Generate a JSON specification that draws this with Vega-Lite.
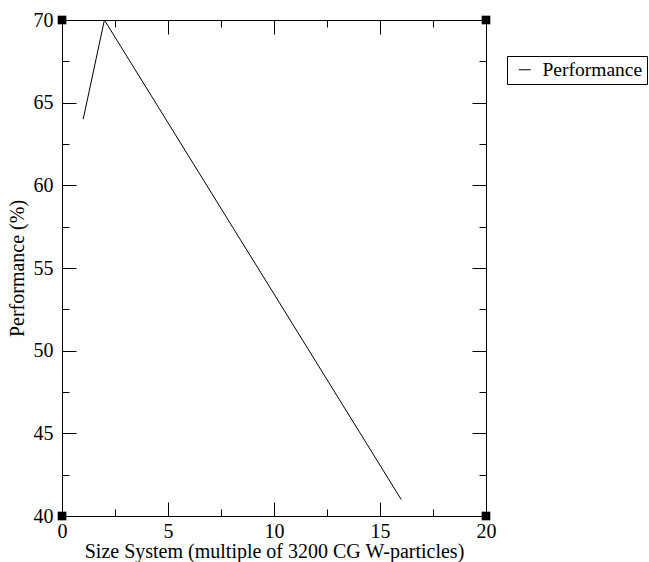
{
  "$schema": "https://vega.github.io/schema/vega-lite/v6.json",
  "width": 424,
  "height": 496,
  "autosize": {"type": "none"},
  "padding": {"left": 62, "top": 20, "right": 163, "bottom": 46},
  "background": "white",
  "config": {
    "view": {"stroke": null},
    "font": "Liberation Serif",
    "text": {"font": "Liberation Serif"},
    "legend": {"labelFont": "Liberation Serif", "titleFont": "Liberation Serif"},
    "axis": {
      "labelFont": "Liberation Serif",
      "titleFont": "Liberation Serif",
      "labelFontSize": 20,
      "titleFontSize": 20,
      "titleFontWeight": "normal",
      "labelColor": "black",
      "titleColor": "black",
      "domainColor": "black",
      "tickColor": "black",
      "grid": false,
      "labelFlush": false,
      "labelOverlap": false
    }
  },
  "datasets": {
    "perf": [
      {"size": 1, "performance": 64, "series": "Performance"},
      {"size": 2, "performance": 70, "series": "Performance"},
      {"size": 16, "performance": 41, "series": "Performance"}
    ],
    "corners": [
      {"cx": 0, "cy": 40},
      {"cx": 0, "cy": 70},
      {"cx": 20, "cy": 70},
      {"cx": 20, "cy": 40}
    ]
  },
  "layer": [
    {
      "data": {"name": "perf"},
      "mark": {"type": "line", "color": "black", "strokeWidth": 1},
      "encoding": {
        "x": {
          "field": "size", "type": "quantitative",
          "scale": {"domain": [0, 20], "nice": false, "zero": false},
          "axis": {
            "orient": "bottom",
            "title": "Size System (multiple of 3200 CG W-particles)",
            "values": [0, 2.5, 5, 7.5, 10, 12.5, 15, 17.5, 20],
            "labelExpr": "datum.value % 5 === 0 ? datum.label : ''",
            "tickSize": {"condition": {"test": "datum.value % 5 === 0", "value": -14}, "value": -7},
            "labelPadding": {"condition": {"test": "datum.value % 5 === 0", "value": 19}, "value": 12},
            "titlePadding": 0
          }
        },
        "y": {
          "field": "performance", "type": "quantitative",
          "scale": {"domain": [40, 70], "nice": false, "zero": false},
          "axis": {
            "orient": "left",
            "title": "Performance (%)",
            "values": [40, 42.5, 45, 47.5, 50, 52.5, 55, 57.5, 60, 62.5, 65, 67.5, 70],
            "labelExpr": "datum.value % 5 === 0 ? datum.label : ''",
            "tickSize": {"condition": {"test": "datum.value % 5 === 0", "value": -14}, "value": -7},
            "labelPadding": {"condition": {"test": "datum.value % 5 === 0", "value": 23}, "value": 16},
            "titlePadding": 6
          }
        },
        "color": {
          "field": "series", "type": "nominal",
          "scale": {"range": ["black"]},
          "legend": {
            "title": null,
            "orient": "none",
            "legendX": 445,
            "legendY": 36,
            "symbolType": "stroke",
            "symbolSize": 144,
            "symbolStrokeWidth": 1,
            "symbolOffset": 4,
            "strokeColor": "black",
            "fillColor": "white",
            "padding": 4,
            "labelFontSize": 19.5,
            "labelColor": "black",
            "labelOffset": 8,
            "offset": 0
          }
        }
      }
    },
    {
      "data": {"name": "corners"},
      "mark": {"type": "point", "shape": "square", "filled": true, "color": "black", "size": 75, "opacity": 1},
      "encoding": {
        "x": {
          "field": "cx", "type": "quantitative",
          "axis": {
            "orient": "top",
            "title": null,
            "values": [0, 2.5, 5, 7.5, 10, 12.5, 15, 17.5, 20],
            "labels": false,
            "tickSize": {"condition": {"test": "datum.value % 5 === 0", "value": -14}, "value": -7}
          }
        },
        "y": {
          "field": "cy", "type": "quantitative",
          "axis": {
            "orient": "right",
            "title": null,
            "values": [40, 42.5, 45, 47.5, 50, 52.5, 55, 57.5, 60, 62.5, 65, 67.5, 70],
            "labels": false,
            "tickSize": {"condition": {"test": "datum.value % 5 === 0", "value": -14}, "value": -7}
          }
        }
      }
    }
  ],
  "resolve": {"axis": {"x": "independent", "y": "independent"}}
}
